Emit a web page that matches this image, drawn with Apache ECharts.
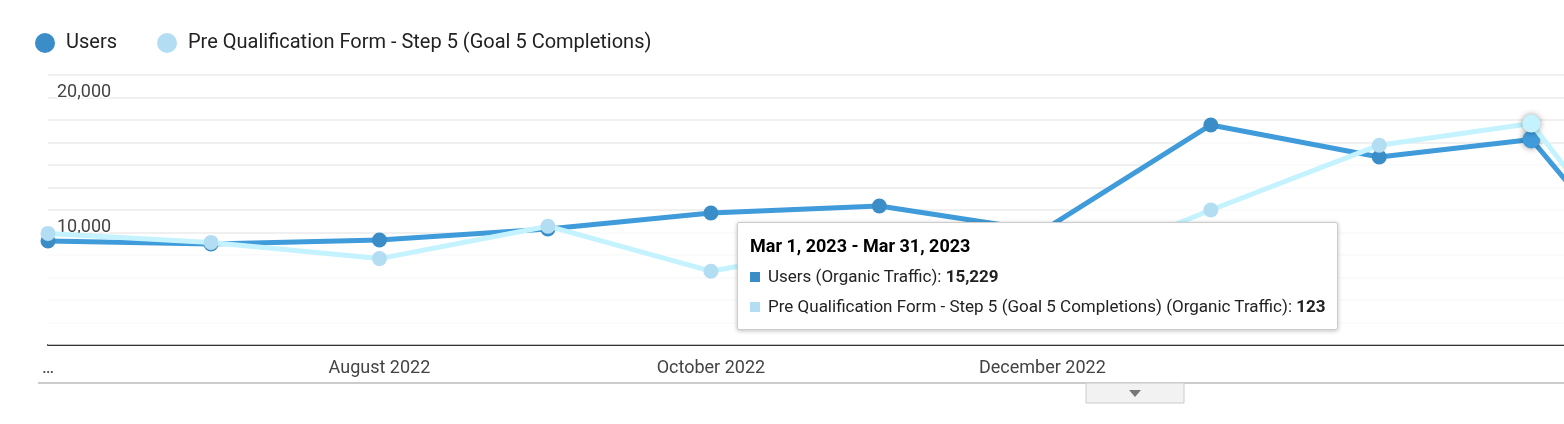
<!DOCTYPE html>
<html><head><meta charset="utf-8">
<script src="https://cdn.jsdelivr.net/npm/echarts@6/dist/echarts.min.js"></script>
<style>html,body{margin:0;padding:0;background:#fff}#c{width:1564px;height:424px}</style>
</head><body><div id="c"></div>
<script>
const dates = ['2022-06-01','2022-07-01','2022-08-01','2022-09-01','2022-10-01','2022-11-01','2022-12-01','2023-01-01','2023-02-01','2023-03-01','2023-04-01'];
const users = [7700, 7480, 7780, 8590, 9780, 10300, 8450, 16300, 13930, 15229, 300];
const goals = [62, 57, 48, 66, 41, 58, 37, 75, 111, 123, 2];
const tickDates = ['2022-06-01','2022-08-01','2022-10-01','2022-12-01','2023-02-01'];
const tickLabels = ['…','August 2022','October 2022','December 2022','February 2023'];
const yTicks = [0, 10000, 20000];
const seriesNames = ['Users','Pre Qualification Form - Step 5 (Goal 5 Completions)'];

const base = Date.UTC(2022, 5, 1);
const day = s => Math.round((Date.UTC(+s.slice(0,4), +s.slice(5,7) - 1, +s.slice(8,10)) - base) / 86400000);
const labelMap = {};
tickDates.forEach((d, i) => labelMap[day(d)] = tickLabels[i]);

const chart = echarts.init(document.getElementById('c'));
chart.setOption({
  animation: false,
  textStyle: {fontFamily: 'Roboto, Arial, sans-serif'},
  legend: {
    left: 30, top: 28, icon: 'circle', itemWidth: 20, itemHeight: 20, itemGap: 40,
    textStyle: {fontSize: 20, color: '#222', padding: [0,0,0,6]},
    data: seriesNames
  },
  grid: {left: 48, right: 0, top: 75, bottom: 79},
  tooltip: {
    trigger: 'axis', alwaysShowContent: true, axisPointer: {type: 'none'},
    position: [737, 222], backgroundColor: '#fff', borderColor: '#ccc', borderWidth: 1,
    padding: [8, 12], extraCssText: 'box-shadow:0 1px 4px rgba(0,0,0,0.25);border-radius:2px;',
    textStyle: {fontFamily: 'Roboto, Arial, sans-serif', fontSize: 17, color: '#222'},
    formatter: () => '<div style="line-height:30px"><b style="font-size:18px;color:#000">Mar 1, 2023 - Mar 31, 2023</b><br>' +
      '<span style="display:inline-block;width:10px;height:10px;background:#3a8dc6;margin-right:8px"></span>Users (Organic Traffic): <b>15,229</b><br>' +
      '<span style="display:inline-block;width:10px;height:10px;background:#b3ddf2;margin-right:8px"></span>Pre Qualification Form - Step 5 (Goal 5 Completions) (Organic Traffic): <b>123</b></div>'
  },
  xAxis: {
    type: 'value', min: 0, max: 279,
    axisLine: {onZero: false, lineStyle: {color: '#333', width: 2}},
    axisTick: {show: false}, splitLine: {show: false},
    axisLabel: {
      customValues: tickDates.map(day), showMinLabel: true, showMaxLabel: false, color: '#444', fontSize: 18, margin: 14,
      formatter: v => labelMap[v] || ''
    }
  },
  yAxis: [{
    type: 'value', min: 0, max: 20000, interval: 10000,
    axisLine: {show: false}, axisTick: {show: false},
    splitLine: {lineStyle: {color: '#e6e6e6', width: 2}},
    axisLabel: {
      inside: true, margin: 9, verticalAlign: 'top', padding: [8,0,0,0], color: '#444', fontSize: 18,
      textBorderColor: '#fff', textBorderWidth: 3, showMinLabel: false,
      formatter: v => yTicks.includes(v) && v > 0 ? v.toLocaleString('en-US') : ''
    }
  }, {
    type: 'value', min: 0, max: 150, interval: 12.5, position: 'right',
    axisLine: {show: false}, axisTick: {show: false}, axisLabel: {show: false},
    splitLine: {lineStyle: {color: '#f0f0f0', width: 2}}
  }],
  series: [{
    name: seriesNames[0], type: 'line', yAxisIndex: 0, z: 3,
    data: dates.map((d, i) => [day(d), users[i]]),
    symbol: 'circle', symbolSize: 15, color: '#3a8dc6',
    lineStyle: {width: 5}, areaStyle: {color: '#eaf2f9'},
    emphasis: {scale: 1.2, itemStyle: {shadowBlur: 6, shadowColor: 'rgba(0,0,0,0.4)'}}
  }, {
    name: seriesNames[1], type: 'line', yAxisIndex: 1, z: 4,
    data: dates.map((d, i) => [day(d), goals[i]]),
    symbol: 'circle', symbolSize: 15, color: '#b3ddf2',
    lineStyle: {width: 5},
    emphasis: {scale: 1.2, itemStyle: {shadowBlur: 6, shadowColor: 'rgba(0,0,0,0.4)'}}
  }],
  graphic: [
    {type: 'rect', shape: {x: 38, y: 382, width: 1526, height: 2}, style: {fill: '#ccc'}},
    {type: 'rect', shape: {x: 1086, y: 383, width: 98, height: 20}, style: {fill: '#f2f2f2', stroke: '#ccc', lineWidth: 1}},
    {type: 'polygon', shape: {points: [[1129,390],[1141,390],[1135,397]]}, style: {fill: '#777'}}
  ]
});
chart.dispatchAction({type: 'showTip', seriesIndex: 0, dataIndex: 9});
</script></body></html>
